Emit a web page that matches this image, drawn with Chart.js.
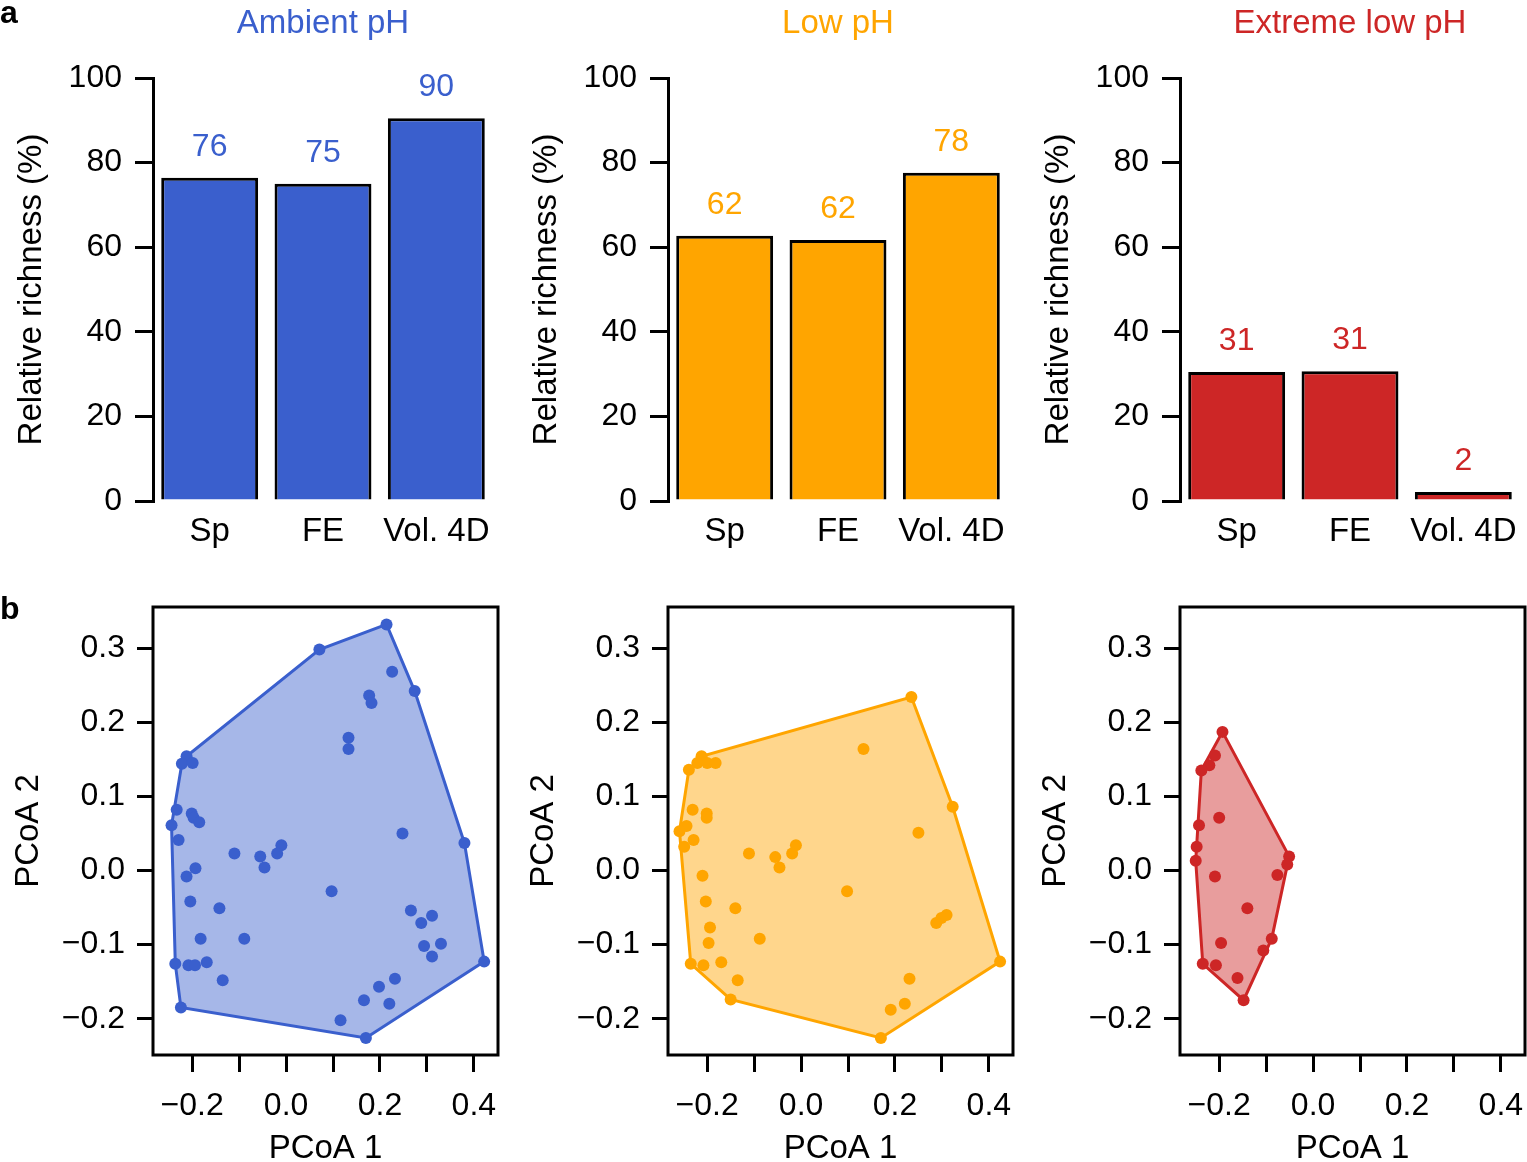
<!DOCTYPE html>
<html>
<head>
<meta charset="utf-8">
<script src="https://cdn.jsdelivr.net/npm/chart.js@4/dist/chart.umd.min.js"></script>
<style>
  body { margin: 0; background: #fff; }
  #page { position: relative; width: 1527px; height: 1162px; overflow: hidden; }
  canvas { position: absolute; }
</style>
</head>
<body>
<div id="page">
  <canvas id="barAmbient" width="500" height="560" style="left:0;top:0"></canvas>
  <canvas id="barLow" width="500" height="560" style="left:515px;top:0"></canvas>
  <canvas id="barExtreme" width="500" height="560" style="left:1027px;top:0"></canvas>
  <canvas id="pcoaAmbient" width="504" height="602" style="left:0;top:560px"></canvas>
  <canvas id="pcoaLow" width="504" height="602" style="left:515px;top:560px"></canvas>
  <canvas id="pcoaExtreme" width="504" height="602" style="left:1027px;top:560px"></canvas>
</div>
<script>
const groups = ["Ambient pH", "Low pH", "Extreme low pH"];
const groupColors = ["#3A5FCD", "#FFA500", "#CD2626"];
const groupFills = ["rgba(58, 95, 205, 0.45)", "rgba(255, 165, 0, 0.45)", "rgba(205, 38, 38, 0.45)"];

const metrics = ["Sp", "FE", "Vol. 4D"];
const ambientRichness = [76.4, 75.0, 90.5];
const lowRichness = [62.7, 61.7, 77.6];
const extremeRichness = [30.5, 30.7, 2.1];
const ambientLabels = ["76", "75", "90"];
const lowLabels = ["62", "62", "78"];
const extremeLabels = ["31", "31", "2"];
const richnessTicks = [0, 20, 40, 60, 80, 100];

const ambientPcoa1 = [0.214, 0.071, 0.226, 0.274, 0.177, 0.182, 0.133, 0.133, -0.212, -0.222, -0.199, -0.233, -0.201, -0.197, -0.185, -0.244, -0.229, 0.248, 0.380, -0.110, -0.010, -0.019, -0.055, -0.046, -0.193, -0.212, 0.097, -0.204, -0.142, 0.266, 0.311, 0.288, 0.294, 0.330, 0.311, 0.422, -0.182, -0.089, -0.236, -0.208, -0.194, -0.169, -0.135, 0.232, 0.198, 0.166, 0.220, -0.224, 0.116, 0.170];
const ambientPcoa2 = [0.332, 0.298, 0.268, 0.242, 0.236, 0.226, 0.179, 0.164, 0.154, 0.144, 0.145, 0.082, 0.077, 0.071, 0.065, 0.061, 0.041, 0.050, 0.037, 0.023, 0.034, 0.023, 0.019, 0.004, 0.003, -0.008, -0.028, -0.042, -0.051, -0.054, -0.061, -0.071, -0.102, -0.099, -0.116, -0.123, -0.092, -0.092, -0.126, -0.128, -0.128, -0.124, -0.148, -0.146, -0.157, -0.175, -0.180, -0.185, -0.202, -0.226];

const lowPcoa1 = [0.235, 0.133, -0.212, -0.221, -0.239, -0.200, -0.182, 0.323, -0.231, -0.201, -0.201, -0.244, -0.259, -0.229, -0.249, 0.250, -0.111, -0.011, -0.019, -0.055, -0.046, -0.210, 0.098, -0.203, -0.140, 0.310, 0.299, 0.288, -0.194, -0.197, -0.088, -0.235, -0.208, -0.170, -0.135, 0.424, 0.231, 0.221, 0.191, -0.150, 0.170];
const lowPcoa2 = [0.234, 0.164, 0.154, 0.145, 0.136, 0.145, 0.145, 0.086, 0.082, 0.077, 0.071, 0.060, 0.053, 0.041, 0.032, 0.051, 0.023, 0.034, 0.023, 0.018, 0.004, -0.007, -0.028, -0.042, -0.051, -0.060, -0.064, -0.071, -0.077, -0.098, -0.092, -0.126, -0.128, -0.124, -0.148, -0.123, -0.146, -0.180, -0.188, -0.174, -0.226];

const extremePcoa1 = [-0.193, -0.209, -0.221, -0.238, -0.200, -0.243, -0.248, -0.250, -0.051, -0.055, -0.209, -0.076, -0.140, -0.088, -0.106, -0.196, -0.235, -0.207, -0.161, -0.148];
const extremePcoa2 = [0.187, 0.155, 0.142, 0.135, 0.071, 0.061, 0.032, 0.013, 0.019, 0.008, -0.008, -0.006, -0.051, -0.092, -0.108, -0.098, -0.126, -0.128, -0.145, -0.175];

const pcoa1Ticks = [-0.2, -0.1, 0, 0.1, 0.2, 0.3, 0.4];
const pcoa1TickLabels = ["\u22120.2", "", "0.0", "", "0.2", "", "0.4"];
const pcoa2Ticks = [-0.2, -0.1, 0, 0.1, 0.2, 0.3];
const pcoa2TickLabels = ["\u22120.2", "\u22120.1", "0.0", "0.1", "0.2", "0.3"];
const pcoa1Range = [-0.2835, 0.4515];
const pcoa2Range = [-0.249, 0.3555];

const FONT = '"Liberation Sans", Arial, Helvetica, sans-serif';
Chart.defaults.font.family = FONT;
Chart.defaults.font.size = 32;
Chart.defaults.color = "#000";

// value labels over bars, panel title, panel letter
const barText = {
  id: "barText",
  afterDatasetsDraw(chart, args, opts) {
    const { ctx, chartArea } = chart;
    const meta = chart.getDatasetMeta(0);
    ctx.save();
    ctx.font = `32px ${FONT}`;
    ctx.fillStyle = opts.color;
    ctx.textAlign = "center";
    ctx.textBaseline = "middle";
    meta.data.forEach((bar, i) => {
      ctx.fillText(opts.labels[i], bar.x, bar.y - 31);
    });
    ctx.font = `33px ${FONT}`;
    ctx.textBaseline = "alphabetic";
    ctx.fillText(opts.title, (chartArea.left + chartArea.right) / 2, 33);
    if (opts.tag) {
      ctx.fillStyle = "#000";
      ctx.font = `bold 32px ${FONT}`;
      ctx.textAlign = "left";
      ctx.fillText(opts.tag, 0, 23);
    }
    ctx.restore();
  },
};

// R-style box round the plot region
const boxFrame = {
  id: "boxFrame",
  afterDraw(chart, args, opts) {
    const { ctx, chartArea } = chart;
    ctx.save();
    ctx.strokeStyle = "#000";
    ctx.lineWidth = 3;
    ctx.strokeRect(chartArea.left, chartArea.top, chartArea.right - chartArea.left, chartArea.bottom - chartArea.top);
    if (opts.tag) {
      ctx.fillStyle = "#000";
      ctx.font = `bold 32px ${FONT}`;
      ctx.textAlign = "left";
      ctx.fillText(opts.tag, 0, 59);
    }
    ctx.restore();
  },
};

const drawBarChart = (canvas, values, labels, idx, tag = "") =>
  new Chart(canvas, {
    type: "bar",
    data: {
      labels: metrics,
      datasets: [
        {
          data: values,
          backgroundColor: groupColors[idx],
          borderColor: "#000",
          borderWidth: 3,
          barPercentage: 0.855,
          categoryPercentage: 1,
        },
      ],
    },
    options: {
      responsive: false,
      animation: false,
      events: [],
      devicePixelRatio: 1,
      layout: { padding: { top: 78, right: 7, left: 0, bottom: 0 } },
      plugins: {
        legend: { display: false },
        tooltip: { enabled: false },
        barText: { labels, color: groupColors[idx], title: groups[idx], tag },
      },
      scales: {
        x: {
          grid: { display: false },
          border: { display: false },
          ticks: { padding: 3, maxRotation: 0, autoSkip: false, font: { size: 33 } },
          afterFit: (s) => {
            s.height = 59;
            s.paddingLeft = 0;
            s.paddingRight = 0;
          },
        },
        y: {
          min: 0,
          max: 100,
          afterBuildTicks: (s) => { s.ticks = richnessTicks.map((v) => ({ value: v })); },
          ticks: { padding: 13, callback: (v) => String(v) },
          grid: { drawOnChartArea: false, drawTicks: true, tickLength: 18, color: "#000", lineWidth: 3 },
          border: { display: true, color: "#000", width: 3 },
          title: {
            display: true,
            text: "Relative richness (%)",
            font: { size: 33, lineHeight: 1 },
            padding: { top: 15, bottom: 0 },
          },
          afterFit: (s) => { s.width = 153; },
        },
      },
    },
    plugins: [barText],
  });

const convexHull = (xs, ys) => {
  const pts = xs.map((x, i) => ({ x, y: ys[i] })).sort((a, b) => a.x - b.x || a.y - b.y);
  const cross = (o, a, b) => (a.x - o.x) * (b.y - o.y) - (a.y - o.y) * (b.x - o.x);
  const lower = [];
  for (const p of pts) {
    while (lower.length >= 2 && cross(lower[lower.length - 2], lower[lower.length - 1], p) <= 0) lower.pop();
    lower.push(p);
  }
  const upper = [];
  for (const p of pts.slice().reverse()) {
    while (upper.length >= 2 && cross(upper[upper.length - 2], upper[upper.length - 1], p) <= 0) upper.pop();
    upper.push(p);
  }
  const hull = lower.slice(0, -1).concat(upper.slice(0, -1));
  hull.push(hull[0]);
  return hull;
};

const drawPcoaChart = (canvas, xs, ys, idx, tag = "") =>
  new Chart(canvas, {
    type: "scatter",
    data: {
      datasets: [
        {
          data: xs.map((x, i) => ({ x, y: ys[i] })),
          backgroundColor: groupColors[idx],
          borderWidth: 0,
          pointRadius: 6,
          order: 0,
        },
        {
          data: convexHull(xs, ys),
          showLine: true,
          fill: "shape",
          backgroundColor: groupFills[idx],
          borderColor: groupColors[idx],
          borderWidth: 3,
          pointRadius: 0,
          tension: 0,
          order: 1,
        },
      ],
    },
    options: {
      responsive: false,
      animation: false,
      events: [],
      devicePixelRatio: 1,
      layout: { padding: { top: 47, right: 0, left: 0, bottom: 0 } },
      plugins: {
        legend: { display: false },
        tooltip: { enabled: false },
        boxFrame: { tag },
      },
      scales: {
        x: {
          type: "linear",
          min: pcoa1Range[0],
          max: pcoa1Range[1],
          afterBuildTicks: (s) => { s.ticks = pcoa1Ticks.map((v) => ({ value: v })); },
          ticks: {
            padding: 15,
            autoSkip: false,
            maxRotation: 0,
            callback: (v, i) => pcoa1TickLabels[i],
          },
          grid: { drawOnChartArea: false, drawTicks: true, tickLength: 17, color: "#000", lineWidth: 3 },
          border: { display: false },
          title: {
            display: true,
            text: "PCoA 1",
            font: { size: 33, lineHeight: 0.8 },
            padding: { top: 0, bottom: 0 },
          },
          afterFit: (s) => {
            s.height = 107;
            s.paddingLeft = 0;
            s.paddingRight = 0;
          },
        },
        y: {
          type: "linear",
          min: pcoa2Range[0],
          max: pcoa2Range[1],
          afterBuildTicks: (s) => { s.ticks = pcoa2Ticks.map((v) => ({ value: v })); },
          ticks: {
            padding: 12,
            autoSkip: false,
            callback: (v, i) => pcoa2TickLabels[i],
          },
          grid: { drawOnChartArea: false, drawTicks: true, tickLength: 16, color: "#000", lineWidth: 3 },
          border: { display: false },
          title: {
            display: true,
            text: "PCoA 2",
            font: { size: 33, lineHeight: 1 },
            padding: { top: 12, bottom: 0 },
          },
          afterFit: (s) => { s.width = 153; },
        },
      },
    },
    plugins: [boxFrame],
  });

drawBarChart(document.getElementById("barAmbient"), ambientRichness, ambientLabels, 0, "a");
drawBarChart(document.getElementById("barLow"), lowRichness, lowLabels, 1);
drawBarChart(document.getElementById("barExtreme"), extremeRichness, extremeLabels, 2);

drawPcoaChart(document.getElementById("pcoaAmbient"), ambientPcoa1, ambientPcoa2, 0, "b");
drawPcoaChart(document.getElementById("pcoaLow"), lowPcoa1, lowPcoa2, 1);
drawPcoaChart(document.getElementById("pcoaExtreme"), extremePcoa1, extremePcoa2, 2);
</script>
</body>
</html>
